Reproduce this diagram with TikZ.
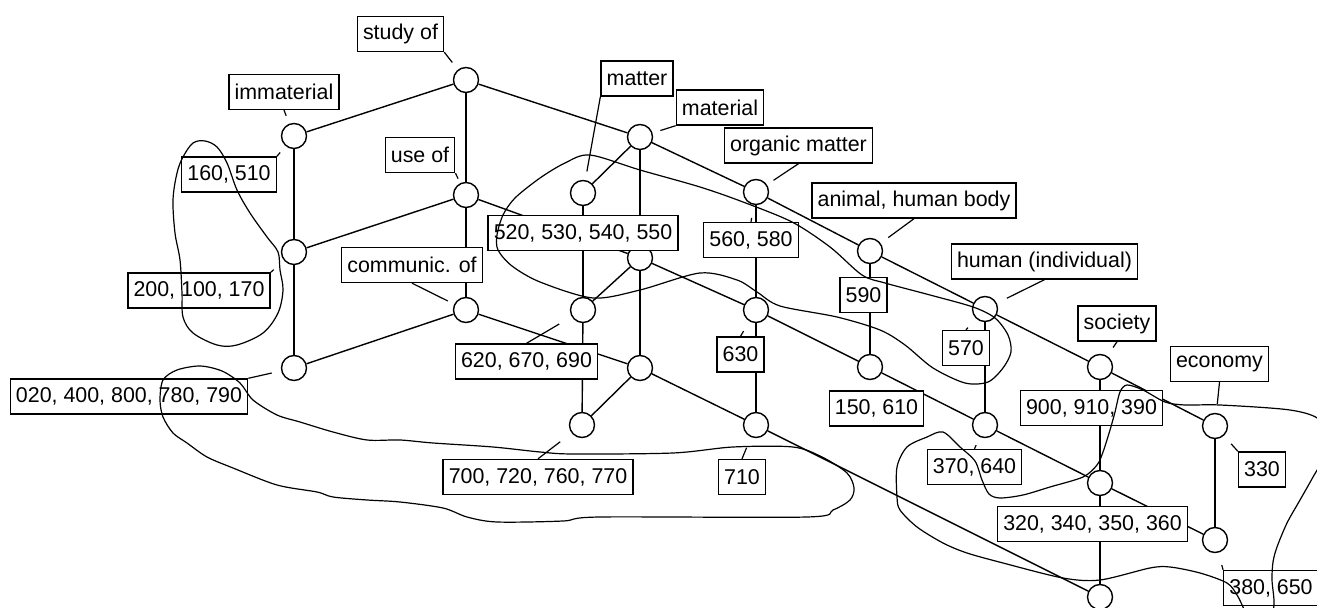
\documentclass[tikz,border=0pt]{standalone}
\usepackage{fontspec}
\setmainfont{Liberation Sans}
\usetikzlibrary{calc}

\begin{document}
\begin{tikzpicture}[
    x=0.5pt, y=-0.5pt,
    concept/.style={circle, draw, fill=white, line width=0.7pt, minimum size=12.5pt, inner sep=0pt},
    lbl/.style={rectangle, draw, fill=white, line width=0.7pt, minimum height=17.5pt, inner xsep=2.8pt, inner ysep=0pt, font=\fontsize{10.7pt}{12pt}\selectfont},
    link/.style={line width=0.7pt},
    leader/.style={line width=0.6pt},
    sketch/.style={line width=0.6pt}
]
\useasboundingbox (0,0) rectangle (1317,608);
\clip (0,0) rectangle (1317,608);

% concepts
\node[concept] (studyof) at (466,80) {};
\node[concept] (immat) at (294,136) {};
\node[concept] (useof) at (466,195) {};
\node[concept] (c200) at (294,252) {};
\node[concept] (commof) at (466,310) {};
\node[concept] (c020) at (294,368) {};
\node[concept] (material) at (640,137) {};
\node[concept] (matter) at (583,193) {};
\node[concept] (organic) at (756,192) {};
\node[concept] (c540) at (640,258) {};
\node[concept] (c620) at (583,310) {};
\node[concept] (c630) at (756,310) {};
\node[concept] (c670) at (640,368) {};
\node[concept] (animal) at (870,251) {};
\node[concept] (human) at (985,309) {};
\node[concept] (c150) at (870,367) {};
\node[concept] (c700) at (582,425) {};
\node[concept] (society) at (1100,367) {};
\node[concept] (c710) at (756,425) {};
\node[concept] (economy) at (1215,426) {};
\node[concept] (c370) at (985,425) {};
\node[concept] (c320) at (1100,483) {};
\node[concept] (c380) at (1215,540) {};
\node[concept] (bottom) at (1100,597) {};

% lattice lines
\draw[link] (studyof) -- (immat);
\draw[link] (studyof) -- (useof);
\draw[link] (studyof) -- (material);
\draw[link] (immat) -- (c200);
\draw[link] (useof) -- (c200);
\draw[link] (useof) -- (commof);
\draw[link] (useof) -- (c540);
\draw[link] (c200) -- (c020);
\draw[link] (commof) -- (c020);
\draw[link] (commof) -- (c670);
\draw[link] (material) -- (matter);
\draw[link] (material) -- (organic);
\draw[link] (material) -- (c540);
\draw[link] (matter) -- (c620);
\draw[link] (organic) -- (c630);
\draw[link] (organic) -- (animal);
\draw[link] (c540) -- (c620);
\draw[link] (c540) -- (c630);
\draw[link] (c540) -- (c670);
\draw[link] (c620) -- (c700);
\draw[link] (c630) -- (c150);
\draw[link] (c630) -- (c710);
\draw[link] (c670) -- (c700);
\draw[link] (c670) -- (c710);
\draw[link] (animal) -- (human);
\draw[link] (animal) -- (c150);
\draw[link] (human) -- (society);
\draw[link] (human) -- (c370);
\draw[link] (c150) -- (c370);
\draw[link] (society) -- (economy);
\draw[link] (society) -- (c320);
\draw[link] (c710) -- (bottom);
\draw[link] (economy) -- (c380);
\draw[link] (c370) -- (c320);
\draw[link] (c320) -- (c380);
\draw[link] (c320) -- (bottom);

% attribute labels
\node[lbl] (lstudy) at (400.5,34) {study of};
\node[lbl] (limmat) at (284,92) {immaterial};
\node[lbl] (luse) at (420,155) {use of};
\node[lbl] (lcomm) at (412,265) {communic. of};
\node[lbl] (lmatter) at (637,78.5) {matter};
\node[lbl] (lmaterial) at (720,107.5) {material};
\node[lbl] (lorganic) at (798.5,145.5) {organic matter};
\node[lbl] (lanimal) at (914,200.5) {animal, human body};
\node[lbl] (lhuman) at (1044.5,261.5) {human (individual)};
\node[lbl] (lsociety) at (1117,323.5) {society};
\node[lbl] (leconomy) at (1219.5,364) {economy};

% object labels
\node[lbl] (o160) at (229,174.5) {160, 510};
\node[lbl] (o200) at (199,290.5) {200, 100, 170};
\node[lbl] (o020) at (129,396.5) {020, 400, 800, 780, 790};
\node[lbl] (o520) at (583,233) {520, 530, 540, 550};
\node[lbl] (o620) at (526.5,361.5) {620, 670, 690};
\node[lbl] (o560) at (751,240) {560, 580};
\node[lbl] (o590) at (863.5,295) {590};
\node[lbl] (o630) at (740.5,354.5) {630};
\node[lbl] (o570) at (966,348) {570};
\node[lbl] (o150) at (876.5,408.5) {150, 610};
\node[lbl] (o700) at (538,477) {700, 720, 760, 770};
\node[lbl] (o710) at (742,477) {710};
\node[lbl] (o370) at (974.5,467) {370, 640};
\node[lbl] (o900) at (1091.5,408) {900, 910, 390};
\node[lbl] (o330) at (1262,469.5) {330};
\node[lbl] (o320) at (1092.5,524) {320, 340, 350, 360};
\node[lbl] (o380) at (1271,588) {380, 650};

% leaders
\draw[leader] (lstudy.south east) -- ($(lstudy.south east)!6.5pt!(studyof)$);
\draw[leader] (limmat.south) -- ($(limmat.south)!3pt!(immat)$);
\draw[leader] (luse.south east) -- ($(luse.south east)!3pt!(useof)$);
\draw[leader] (lcomm.south) -- ($(lcomm.south)!20pt!(commof)$);
\draw[leader] (lmatter.south west) -- ($(lmatter.south west)!38pt!(matter)$);
\draw[leader] (lmaterial.south west) -- ($(lmaterial.south west)!8pt!(material)$);
\draw[leader] (lorganic.south) -- ($(lorganic.south)!15pt!(organic)$);
\draw[leader] (lanimal.south) -- ($(lanimal.south)!16pt!(animal)$);
\draw[leader] (lhuman.south) -- ($(lhuman.south)!21pt!(human)$);
\draw[leader] (lsociety.south) -- ($(lsociety.south)!3.5pt!(society)$);
\draw[leader] (leconomy.south) -- ($(leconomy.south)!11pt!(economy)$);
\draw[leader] (o160.north east) -- ($(o160.north east)!2.5pt!(immat)$);
\draw[leader] (o200.north east) -- ($(o200.north east)!2pt!(c200)$);
\draw[leader] (o020.north east) -- ($(o020.north east)!12pt!(c020)$);
\draw[leader] (o620.north) -- ($(o620.north)!19pt!(c620)$);
\draw[leader] (o700.north) -- ($(o700.north)!14pt!(c700)$);
\draw[leader] (o710.north) -- ($(o710.north)!6pt!(c710)$);
\draw[leader] (o630.north) -- ($(o630.north)!3pt!(c630)$);
\draw[leader] (o560.north) -- ($(o560.north)!2pt!(organic)$);
\draw[leader] (o570.north) -- ($(o570.north)!1.5pt!(human)$);
\draw[leader] (o370.north) -- ($(o370.north)!2pt!(c370)$);
\draw[leader] (o330.north west) -- ($(o330.north west)!5pt!(economy)$);
\draw[leader] (o380.north west) -- ($(o380.north west)!2.5pt!(c380)$);

% hand-drawn groupings
\draw[sketch] plot[smooth cycle, tension=0.55] coordinates {
  (183,157) (193,143) (205,141) (217,147) (227,163) (237,190) (250,213) (267,237)
  (278,252) (280,270) (283,290) (278,313) (263,333) (237,345) (217,345) (193,333)
  (183,317) (182,293) (180,260) (175,233) (173,200) (177,173)};
\draw[sketch] plot[smooth cycle, tension=0.5] coordinates {
  (163,380) (177,370) (200,366) (222,371) (240,383) (253,400) (277,415) (300,422)
  (333,432) (367,440) (400,440) (433,443) (493,447) (540,452) (573,454) (673,453)
  (733,447) (793,447) (822,457) (847,473) (854,488) (850,500) (833,510) (807,517)
  (600,517) (563,521) (497,522) (467,517) (443,508) (400,502) (367,500) (333,497)
  (317,492) (277,485) (233,468) (207,457) (187,443) (173,433) (163,417) (160,400)};
\draw[sketch] plot[smooth cycle, tension=0.5] coordinates {
  (498,250) (497,235) (503,215) (515,198) (540,178) (565,163) (590,155) (640,170)
  (700,187) (743,202) (792,222) (830,247) (862,275) (885,283) (930,295) (973,307)
  (995,318) (1008,335) (1011,352) (1003,368) (988,382) (965,383) (933,368) (905,345)
  (880,330) (837,317) (780,306) (757,292) (737,280) (700,273) (640,290) (593,298)
  (540,282) (512,266)};
\draw[sketch] plot[smooth cycle, tension=0.5] coordinates {
  (1243,607) (1237,595) (1227,583) (1200,573) (1170,567) (1150,568) (1100,580)
  (1063,578) (1003,563) (967,553) (943,543) (917,527) (900,510) (897,497) (897,467)
  (907,447) (927,437) (943,432) (960,447) (975,461) (982,480) (989,494) (1000,498)
  (1023,495) (1050,487) (1083,477) (1097,465) (1103,452) (1110,430) (1115,412)
  (1120,392) (1127,385) (1143,390) (1165,402) (1185,405) (1220,405) (1290,410)
  (1320,420) (1330,445) (1313,477) (1300,500) (1287,523) (1277,547) (1273,562)
  (1272,580) (1274,605) (1268,625) (1250,622)};
\end{tikzpicture}
\end{document}
